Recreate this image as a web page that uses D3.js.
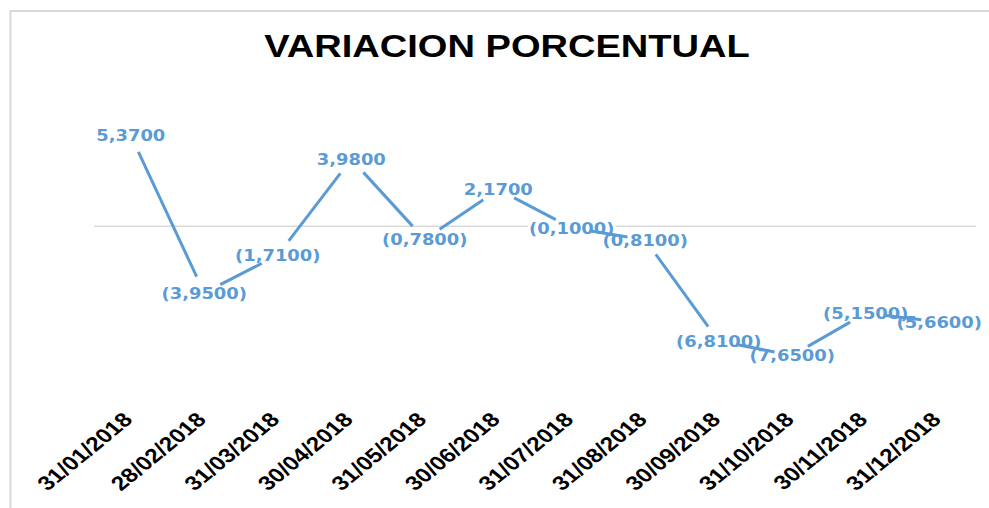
<!DOCTYPE html>
<html><head><meta charset="utf-8">
<script src="https://cdn.jsdelivr.net/npm/d3@7"></script>
<style>body{margin:0;background:#fff}svg{display:block}</style>
</head><body>
<script>
const title = "VARIACION PORCENTUAL";
const categories = ["31/01/2018","28/02/2018","31/03/2018","30/04/2018","31/05/2018","30/06/2018","31/07/2018","31/08/2018","30/09/2018","31/10/2018","30/11/2018","31/12/2018"];
const values = [5.37, -3.95, -1.71, 3.98, -0.78, 2.17, -0.10, -0.81, -6.81, -7.65, -5.15, -5.66];
const yDomain = [-10, 6];

const W = 989, H = 508;
const svg = d3.select("body").append("svg").attr("width", W).attr("height", H);
svg.append("rect").attr("width", W).attr("height", H).attr("fill", "#fff");
svg.append("rect").attr("x", 10.5).attr("y", 11).attr("width", 1000).attr("height", 520)
  .attr("fill", "none").attr("stroke", "#d9d9d9").attr("stroke-width", 2);

const x = d3.scaleBand().domain(categories).range([94, 976]);
const y = d3.scaleLinear().domain(yDomain).range([395, 125]);
const cx = d => x(d) + x.bandwidth() / 2;
const blue = "#5B9BD5";
const fmt = v => {
  const s = Math.abs(v).toFixed(4).replace(".", ",");
  return v < 0 ? "(" + s + ")" : s;
};

// title
svg.append("text").attr("transform", `translate(507,57) scale(1.19,1)`)
  .attr("text-anchor", "middle").attr("font-family", "Liberation Sans, Arial, sans-serif")
  .attr("font-weight", "bold").attr("font-size", 32).attr("fill", "#000").text(title);

// zero gridline
svg.append("line").attr("x1", 94).attr("x2", 976).attr("y1", y(0)).attr("y2", y(0))
  .attr("stroke", "#d9d9d9").attr("stroke-width", 1.5);

const pts = categories.map((c, i) => ({c, v: values[i], px: cx(c), py: y(values[i])}));

// label groups (background first)
const lab = svg.append("g").selectAll("g").data(pts).join("g")
  .attr("transform", d => `translate(${d.px},${d.py}) scale(1.12,1)`);
const texts = lab.append("text").attr("text-anchor", "middle").attr("dy", "0.36em")
  .attr("font-family", "DejaVu Sans, Verdana, sans-serif").attr("font-weight", "bold")
  .attr("font-size", 16).attr("fill", blue).text(d => fmt(d.v));
lab.each(function() {
  const g = d3.select(this);
  const bb = g.select("text").node().getBBox();
  g.insert("rect", "text").attr("x", bb.x - 1).attr("y", bb.y + 2).attr("width", bb.width + 2)
    .attr("height", bb.height - 4).attr("fill", "#fff");
});
// move texts to a top layer after line
const lineLayer = svg.insert("g", "g:last-of-type");

// line segments trimmed near points
const gap = 18;
const segs = d3.pairs(pts).map(([a, b]) => {
  const dx = b.px - a.px, dy = b.py - a.py, L = Math.hypot(dx, dy);
  const t = gap / L;
  return {x1: a.px + dx * t, y1: a.py + dy * t, x2: b.px - dx * t, y2: b.py - dy * t};
});
// draw line above label backgrounds but below texts
const segG = svg.append("g");
segG.selectAll("line").data(segs).join("line")
  .attr("x1", d => d.x1).attr("y1", d => d.y1).attr("x2", d => d.x2).attr("y2", d => d.y2)
  .attr("stroke", blue).attr("stroke-width", 3).attr("stroke-linecap", "butt");
// re-append texts on top
const topG = svg.append("g");
pts.forEach((d) => {
  topG.append("text").attr("transform", `translate(${d.px},${d.py}) scale(1.12,1)`)
    .attr("text-anchor", "middle").attr("dy", "0.36em")
    .attr("font-family", "DejaVu Sans, Verdana, sans-serif").attr("font-weight", "bold")
    .attr("font-size", 16).attr("fill", blue).text(fmt(d.v));
});
texts.remove();

// x axis labels
const xAxis = d3.axisBottom(x).tickSize(0).tickPadding(0);
const ax = svg.append("g").attr("transform", `translate(0,421)`).call(xAxis);
ax.select(".domain").remove();
ax.selectAll("text")
  .attr("transform", "scale(1.22,1) rotate(-45)")
  .attr("text-anchor", "end").attr("dy", 0).attr("y", 0)
  .attr("font-family", "Liberation Sans, Arial, sans-serif").attr("font-weight", "bold")
  .attr("font-size", 20).attr("fill", "#000");
ax.selectAll(".tick").attr("transform", d => `translate(${cx(d) + 3},0)`);
</script>
</body></html>
